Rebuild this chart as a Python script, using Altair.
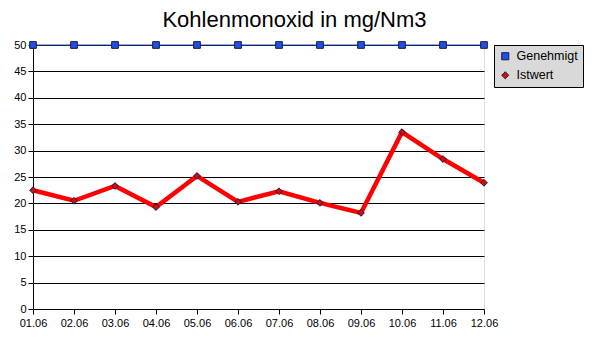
import altair as alt
import pandas as pd

dates = ["01.06", "02.06", "03.06", "04.06", "05.06", "06.06",
         "07.06", "08.06", "09.06", "10.06", "11.06", "12.06"]
istwert = [22.5, 20.5, 23.3, 19.3, 25.2, 20.3, 22.3, 20.1, 18.2, 33.5, 28.4, 23.9]
genehmigt = [50] * len(dates)

series_names = ["Genehmigt", "Istwert"]

wide = pd.DataFrame({"Datum": dates, "Genehmigt": genehmigt, "Istwert": istwert})
long = wide.melt(id_vars="Datum", var_name="Serie", value_name="Wert")

x_enc = alt.X("Datum:O", sort=dates,
              scale=alt.Scale(type="point", padding=0),
              axis=alt.Axis(title=None, labelAngle=0, tickSize=5, labelPadding=3,
                            labelFontSize=11, labelColor="#000000", domainColor="#000000",
                            tickColor="#000000", grid=False, labelFont="Liberation Sans"))
y_scale = alt.Scale(domain=[0, 50], nice=False)
y_axis = alt.Axis(title=None, values=list(range(0, 51, 5)), tickSize=5, labelPadding=2,
                  labelFontSize=11, labelColor="#000000", domainColor="#000000",
                  tickColor="#000000", grid=True, gridColor="#000000", gridOpacity=1,
                  gridWidth=1, labelFont="Liberation Sans")

legend_opts = dict(title=None, orient="none", legendX=461, legendY=0,
                   fillColor="#d9d9d9", strokeColor="#000000",
                   padding=5, labelFontSize=12.5, labelFont="Liberation Sans",
                   labelColor="#000000", rowPadding=6, symbolSize=50,
                   symbolStrokeColor="#1a1a40", symbolStrokeWidth=1,
                   labelOffset=5)

base = alt.Chart(long)

line_g = base.transform_filter(alt.datum.Serie == "Genehmigt").mark_line(
    color="#2452c8", strokeWidth=1.2).encode(
    x=x_enc, y=alt.Y("Wert:Q", scale=y_scale, axis=y_axis))
line_i = base.transform_filter(alt.datum.Serie == "Istwert").mark_line(
    color="#ff0000", strokeWidth=4.5).encode(
    x=x_enc, y=alt.Y("Wert:Q", scale=y_scale, axis=y_axis))

pts = base.mark_point(filled=True, size=45, stroke="#1a1a40", strokeWidth=1, opacity=1).encode(
    x=x_enc,
    y=alt.Y("Wert:Q", scale=y_scale, axis=y_axis),
    color=alt.Color("Serie:N", scale=alt.Scale(domain=series_names, range=["#1e50e6", "#cc1010"]),
                    legend=alt.Legend(**legend_opts)),
    shape=alt.Shape("Serie:N", scale=alt.Scale(domain=series_names, range=["square", "diamond"]),
                    legend=alt.Legend(**legend_opts)),
)

chart = alt.layer(line_g, line_i, pts).properties(
    width=451, height=264,
    autosize=alt.AutoSizeParams(type="none"),
    padding={"left": 25, "top": 37, "right": 104, "bottom": 20},
    title=alt.TitleParams("Kohlenmonoxid in mg/Nm3", fontSize=22, fontWeight="normal",
                          font="Liberation Sans", color="#000000", anchor="middle",
                          dx=36, offset=7),
).configure_view(fill="#d9d9d9", stroke=None).configure(background="#ffffff")

chart.save("out.html", embed_options={"renderer": "svg", "actions": False})
